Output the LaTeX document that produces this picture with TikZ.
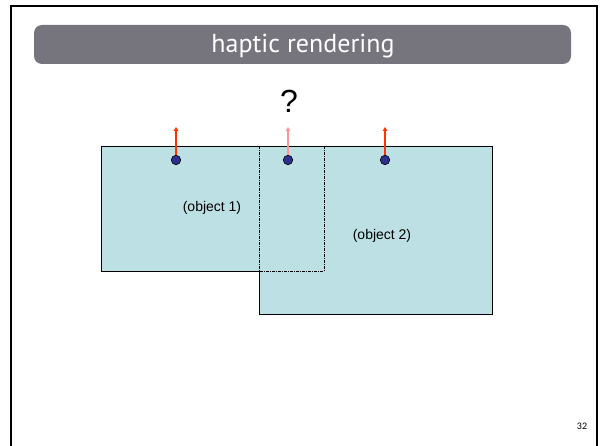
\documentclass[tikz,border=0pt]{standalone}
\usepackage{fontspec}
\setmainfont{Liberation Sans}
\newfontfamily\titlefont{PT Sans}
\newfontfamily\numfont{Carlito}
\usetikzlibrary{arrows.meta}
\definecolor{barc}{RGB}{118,117,126}
\definecolor{objc}{RGB}{188,224,228}
\definecolor{dotc}{RGB}{46,46,140}
\definecolor{arrc}{RGB}{255,51,0}
\definecolor{arrp}{RGB}{255,150,150}
\tikzset{
  frameline/.style={line width=2.5pt,black},
  objfill/.style={fill=objc,draw=none},
  objline/.style={black,line width=0.8pt},
  overlapline/.style={black,line width=0.6pt,dash pattern=on 3pt off 1pt on 1pt off 1pt},
  probe/.style={circle,fill=dotc,draw=black,line width=0.6pt,minimum size=9.5pt,inner sep=0pt},
  force/.style={line width=1.5pt,arrc,-{Triangle[length=4pt,width=4.5pt]}},
  forcepale/.style={line width=1.5pt,arrp,-{Triangle[length=4pt,width=4.5pt]}},
  lbl/.style={font=\fontsize{14}{16}\selectfont,inner sep=0pt}
}
\begin{document}
\begin{tikzpicture}[x=1pt,y=-1pt]
\useasboundingbox (0,0) rectangle (603,446);
% frame
\draw[frameline] (11.2,446) -- (11.2,6) -- (597,6) -- (597,446);
% title bar
\node[fill=barc,rounded corners=8pt,minimum width=537pt,minimum height=39pt,inner sep=0pt] (bar) at (302.5,44.5) {};
\node[text=white,font=\titlefont\fontsize{26}{30}\selectfont,inner sep=0pt] (title) at (303,46) {haptic rendering};
% objects fill
\path[objfill] (101,146) -- (492,146) -- (492,314) -- (259,314) -- (259,271) -- (101,271) -- cycle;
% outline
\draw[objline] (259,271) -- (101,271) -- (101,146) -- (492,146) -- (492,314) -- (259,314) -- (259,271);
% overlap region
\draw[overlapline] (259,146) -- (259,271) -- (324,271) -- (324,146);
% labels
\node[lbl] (o1) at (212,208) {(object 1)};
\node[lbl] (o2) at (382,236) {(object 2)};
\node[font=\fontsize{32}{36}\selectfont,inner sep=0pt] (q) at (289,101) {?};
% probes and forces
\coordinate (t1) at (176,127);
\coordinate (t2) at (288,127);
\coordinate (t3) at (385,127);
\draw[force] (176,156) -- (t1);
\draw[forcepale] (288,156) -- (t2);
\draw[force] (385,156) -- (t3);
\node[probe] (p1) at (176,160) {};
\node[probe] (p2) at (288,160) {};
\node[probe] (p3) at (385,160) {};
% page number
\node[font=\numfont\fontsize{10}{12}\selectfont,inner sep=0pt] (pg) at (582,426) {32};
\end{tikzpicture}
\end{document}
